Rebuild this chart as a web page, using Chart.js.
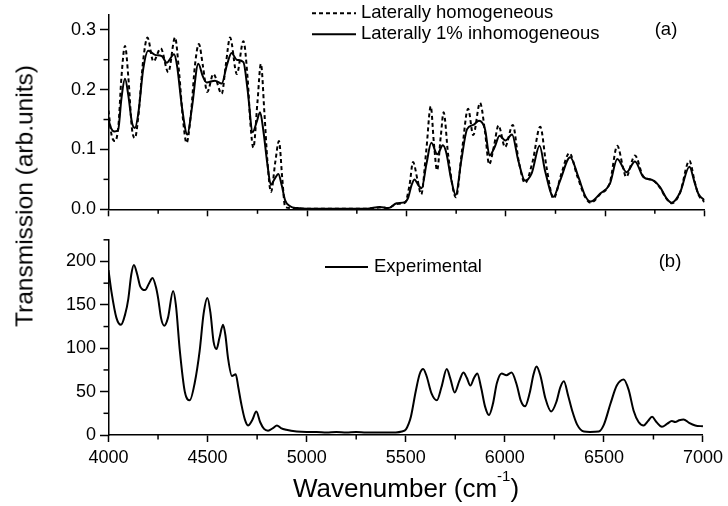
<!DOCTYPE html>
<html>
<head>
<meta charset="utf-8">
<script src="https://cdn.jsdelivr.net/npm/chart.js@4.4.1/dist/chart.umd.min.js"></script>
<style>
  html,body{margin:0;padding:0;background:#fff;}
  #wrap{position:relative;width:728px;height:506px;background:#fff;overflow:hidden;font-family:"Liberation Sans",Arial,sans-serif;color:#000;}
  canvas{position:absolute;left:0;}
  #ytitle{position:absolute;left:23.5px;top:196px;transform:translate(-50%,-50%) rotate(-90deg);white-space:nowrap;font-size:24.5px;line-height:25px;}
  #xtitle{position:absolute;left:406px;top:475px;transform:translateX(-50%);white-space:nowrap;font-size:26px;line-height:26px;}
  #xtitle .sup{font-size:15px;position:relative;top:-16px;}
</style>
</head>
<body>
<div id="wrap">
  <canvas id="c1" width="728" height="225" style="top:0px"></canvas>
  <canvas id="c2" width="728" height="281" style="top:225px"></canvas>
  <div id="ytitle">Transmission (arb.units)</div>
  <div id="xtitle">Wavenumber (cm<span class="sup">-1</span>)</div>
</div>
<script>
// ---------- data ----------
const xTickLabels = [4000, 4500, 5000, 5500, 6000, 6500, 7000];
const topYTicks = [0.0, 0.1, 0.2, 0.3];
const bottomYTicks = [0, 50, 100, 150, 200];

const homLabel = "Laterally homogeneous";
const homWn = [4000,4015,4033,4050,4065,4083,4100,4118,4133,4150,4175,4196,4226,4263,4301,4335,4355,4375,4393,4415,4435,4455,4475,4497,4528,4570,4590,4612,4646,4679,4700,4715,4729,4750,4767,4785,4800,4818,4840,4858,4875,4889,4920,5000,5100,5200,5300,5366,5408,5450,5492,5515,5533,5555,5574,5600,5622,5638,5654,5672,5687,5710,5749,5780,5810,5836,5870,5895,5916,5940,5963,5996,6035,6065,6097,6135,6173,6205,6240,6280,6320,6360,6400,6427,6474,6524,6561,6590,6605,6650,6692,6743,6776,6810,6835,6877,6924,6950,6969,7000];
const homT  = [0.165,0.125,0.114,0.140,0.220,0.273,0.220,0.135,0.119,0.155,0.250,0.287,0.247,0.269,0.229,0.287,0.230,0.150,0.111,0.160,0.240,0.276,0.240,0.196,0.226,0.193,0.240,0.287,0.226,0.281,0.220,0.140,0.103,0.180,0.243,0.160,0.080,0.029,0.080,0.114,0.050,0.004,0.002,0.001,0.001,0.001,0.001,0.003,0.002,0.009,0.011,0.040,0.079,0.050,0.025,0.100,0.172,0.110,0.065,0.120,0.162,0.090,0.020,0.100,0.168,0.124,0.178,0.130,0.075,0.105,0.140,0.104,0.141,0.080,0.044,0.080,0.138,0.070,0.018,0.060,0.094,0.055,0.020,0.011,0.025,0.045,0.106,0.070,0.054,0.090,0.055,0.048,0.036,0.017,0.010,0.028,0.081,0.047,0.025,0.012];

const inhomLabel = "Laterally 1% inhomogeneous";
const inhomWn = [4000,4012,4030,4048,4065,4083,4100,4118,4133,4150,4175,4200,4234,4268,4293,4330,4345,4370,4397,4420,4452,4475,4494,4536,4570,4595,4620,4645,4679,4700,4726,4745,4763,4780,4800,4817,4835,4855,4872,4889,4914,4950,5000,5100,5200,5300,5366,5408,5450,5492,5509,5525,5540,5560,5576,5600,5625,5655,5683,5700,5725,5748,5775,5805,5836,5865,5895,5918,5945,5968,5998,6031,6063,6097,6130,6170,6197,6240,6273,6324,6365,6400,6427,6474,6524,6561,6608,6650,6692,6743,6776,6810,6835,6877,6924,6950,6969,7000];
const inhomT  = [0.150,0.136,0.130,0.132,0.185,0.218,0.190,0.145,0.136,0.160,0.235,0.265,0.258,0.256,0.245,0.259,0.240,0.170,0.125,0.170,0.243,0.222,0.212,0.215,0.210,0.240,0.261,0.250,0.246,0.200,0.129,0.145,0.162,0.130,0.075,0.041,0.050,0.059,0.040,0.015,0.005,0.002,0.001,0.001,0.001,0.001,0.004,0.002,0.010,0.012,0.020,0.040,0.050,0.040,0.035,0.075,0.111,0.092,0.107,0.095,0.050,0.024,0.080,0.134,0.141,0.148,0.134,0.090,0.105,0.123,0.115,0.125,0.081,0.048,0.060,0.106,0.065,0.021,0.048,0.087,0.054,0.022,0.013,0.026,0.043,0.084,0.062,0.080,0.054,0.048,0.037,0.018,0.011,0.028,0.071,0.045,0.026,0.015];

const expLabel = "Experimental";
const expWn = [4000,4015,4040,4063,4085,4100,4115,4128,4145,4159,4184,4205,4222,4240,4251,4265,4281,4300,4326,4340,4360,4385,4410,4435,4460,4480,4499,4515,4530,4545,4560,4578,4590,4603,4623,4642,4655,4670,4688,4704,4725,4746,4765,4785,4805,4830,4850,4870,4897,4950,5000,5050,5100,5150,5200,5250,5300,5350,5400,5450,5480,5501,5515,5526,5551,5570,5588,5605,5630,5657,5680,5707,5725,5747,5770,5791,5808,5826,5845,5861,5880,5900,5920,5940,5960,5984,6008,6034,6060,6080,6102,6125,6145,6160,6180,6205,6234,6260,6280,6298,6320,6340,6365,6399,6430,6474,6500,6533,6565,6600,6625,6650,6675,6701,6722,6743,6765,6793,6820,6843,6860,6880,6902,6930,6961,7000];
const expT  = [190,165,135,127,140,157,185,196,185,172,167,175,181,170,157,135,126,135,166,150,97,50,40,60,97,140,158,140,108,99,112,127,115,89,68,70,55,36,18,11,17,27,15,7,5,8,11,8,6,4,3.5,3.5,3,3.5,3,3.5,3,3,3,3,4,6.5,13,21,51,70,76,68,48,40,55,76,65,49,62,72,66,57,66,71,55,33,23,36,60,71,69,72,58,40,33,48,70,79,68,42,27,38,55,62,45,28,12,4,3.5,4,12,36,57,64,52,28,15,11,16,21,15,9.5,13,16,15,17,18,14,11,10];

// ---------- helpers ----------
const zip = (xs, ys) => xs.map((x, i) => ({x: x, y: ys[i]}));
const FONT = '"Liberation Sans", Arial, sans-serif';
Chart.defaults.color = '#000';
Chart.defaults.font.family = FONT;

const minorTicks = {
  id: 'minorTicks',
  afterDraw(chart, args, o) {
    const ctx = chart.ctx;
    ctx.save();
    ctx.strokeStyle = '#000';
    ctx.lineWidth = 1.5;
    (o.list || []).forEach(m => {
      const s = chart.scales[m.axis];
      const k0 = Math.ceil(s.min / m.step - 1e-9), k1 = Math.floor(s.max / m.step + 1e-9);
      for (let k = k0; k <= k1; k++) {
        if (k % m.every === 0) continue;
        const v = k * m.step;
        const p = s.getPixelForValue(v);
        ctx.beginPath();
        if (m.axis === 'x') {
          ctx.moveTo(p, s.top); ctx.lineTo(p, s.top + m.len);
        } else {
          ctx.moveTo(s.right - m.len, p); ctx.lineTo(s.right, p);
        }
        ctx.stroke();
      }
    });
    ctx.restore();
  }
};

const panelText = {
  id: 'panelText',
  afterDraw(chart, args, o) {
    const ctx = chart.ctx;
    ctx.save();
    ctx.font = o.font;
    ctx.fillStyle = '#000';
    ctx.textBaseline = 'middle';
    (o.entries || []).forEach(e => {
      const ds = chart.data.datasets[e.ds];
      ctx.strokeStyle = ds.borderColor;
      ctx.lineWidth = ds.borderWidth;
      ctx.setLineDash(ds.borderDash || []);
      ctx.beginPath(); ctx.moveTo(e.x1, e.y); ctx.lineTo(e.x2, e.y); ctx.stroke();
      ctx.setLineDash([]);
      ctx.textAlign = 'left';
      ctx.fillText(ds.label, e.tx, e.y);
    });
    if (o.tag) {
      ctx.textAlign = 'center';
      ctx.fillText(o.tag.text, o.tag.x, o.tag.y);
    }
    ctx.restore();
  }
};

function keepTicks(list) {
  return s => { s.ticks = list.map(v => ({value: v})); };
}

function xScale(showLabels, height) {
  return {
    type: 'linear', min: 4000, max: 7000,
    afterBuildTicks: keepTicks(xTickLabels),
    grid: {display: true, drawOnChartArea: false, drawTicks: true, tickLength: 7, tickWidth: 1.5, tickColor: '#000'},
    border: {display: true, color: '#000', width: 1.5},
    ticks: {
      stepSize: 500, padding: 5, maxRotation: 0, autoSkip: false, includeBounds: false,
      font: {size: 18, family: FONT}, color: '#000',
      callback: v => showLabels ? String(v) : ''
    },
    afterFit: s => { s.height = height; }
  };
}

function yScale(min, max, step, list, fmt) {
  return {
    type: 'linear', min: min, max: max,
    afterBuildTicks: keepTicks(list),
    grid: {display: true, drawOnChartArea: false, drawTicks: true, tickLength: 8.5, tickWidth: 1.5, tickColor: '#000'},
    border: {display: true, color: '#000', width: 1.5},
    ticks: {stepSize: step, padding: 4, autoSkip: false, includeBounds: false, font: {size: 18, family: FONT}, color: '#000', callback: fmt},
    afterFit: s => { s.width = 108.5; }
  };
}

const common = {
  responsive: false, animation: false, devicePixelRatio: 1,
  elements: {point: {radius: 0, hoverRadius: 0}},
  events: []
};

// ---------- top panel ----------
new Chart(document.getElementById('c1'), {
  type: 'line',
  data: {
    datasets: [
      {label: homLabel, data: zip(homWn, homT), borderColor: '#000', borderWidth: 2, borderDash: [4, 3],
       fill: false, cubicInterpolationMode: 'monotone'},
      {label: inhomLabel, data: zip(inhomWn, inhomT), borderColor: '#000', borderWidth: 2,
       fill: false, cubicInterpolationMode: 'monotone'}
    ]
  },
  options: Object.assign({}, common, {
    layout: {padding: {left: 0, right: 23.5, top: 12, bottom: 0}},
    scales: {
      x: xScale(false, 15.7),
      y: yScale(0, 0.325, 0.1, topYTicks, v => Number(v).toFixed(1))
    },
    plugins: {
      legend: {display: false}, tooltip: {enabled: false},
      minorTicks: {list: [{axis: 'x', step: 250, every: 2, len: 4.5}, {axis: 'y', step: 0.05, every: 2, len: 5}]},
      panelText: {
        font: '18.5px ' + FONT,
        entries: [{ds: 0, x1: 312, x2: 356, y: 13.3, tx: 361}, {ds: 1, x1: 312, x2: 356, y: 34.3, tx: 361}],
        tag: {text: '(a)', x: 666, y: 30}
      }
    }
  }),
  plugins: [minorTicks, panelText]
});

// ---------- bottom panel ----------
new Chart(document.getElementById('c2'), {
  type: 'line',
  data: {
    datasets: [
      {label: expLabel, data: zip(expWn, expT), borderColor: '#000', borderWidth: 2,
       fill: false, cubicInterpolationMode: 'monotone'}
    ]
  },
  options: Object.assign({}, common, {
    layout: {padding: {left: 0, right: 23.5, top: 12.7, bottom: 0}},
    scales: {
      x: xScale(true, 71),
      y: yScale(0, 225, 50, bottomYTicks, v => String(v))
    },
    plugins: {
      legend: {display: false}, tooltip: {enabled: false},
      minorTicks: {list: [{axis: 'x', step: 250, every: 2, len: 4.5}, {axis: 'y', step: 25, every: 2, len: 5}]},
      panelText: {
        font: '18.5px ' + FONT,
        entries: [{ds: 0, x1: 325, x2: 368, y: 42, tx: 374}],
        tag: {text: '(b)', x: 670, y: 36.5}
      }
    }
  }),
  plugins: [minorTicks, panelText]
});
</script>
</body>
</html>
